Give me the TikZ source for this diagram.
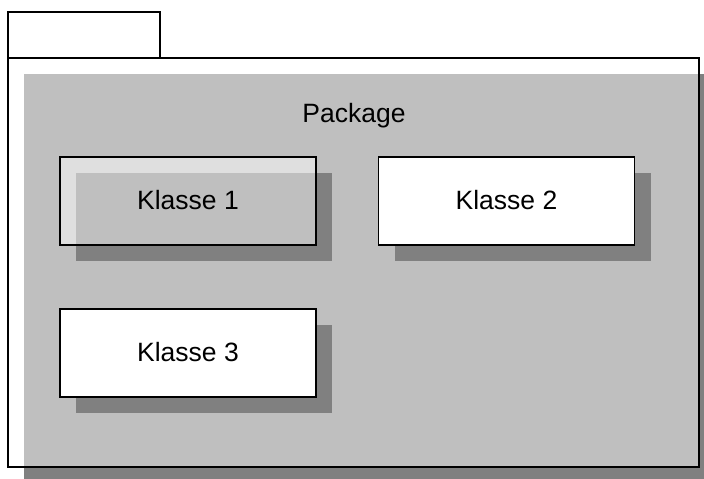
\documentclass[tikz,border=0pt]{standalone}
\usepackage{fontspec}
\setmainfont{Liberation Sans}
\usetikzlibrary{shadows}
\definecolor{shadowgray}{HTML}{808080}
\begin{document}
\begin{tikzpicture}[x=1pt,y=-1pt,
  shadowed/.style={drop shadow={shadow xshift=16pt, shadow yshift=-16pt, fill=shadowgray, opacity=1}},
  boxline/.style={draw=black, line width=1.6pt, inner sep=0pt},
  classbox/.style={boxline, fill=white, minimum width=256pt, minimum height=88pt,
    font=\fontsize{26.5}{31}\selectfont, text depth=3pt, shadowed},
  seethrough/.style={fill opacity=0.5, text opacity=1, draw opacity=1},
  labeltext/.style={font=\fontsize{26.5}{31}\selectfont, inner sep=0pt}]
\useasboundingbox (0,0) rectangle (704,479);
\begin{scope}
\clip (0,0) rectangle (704,479);
\node[boxline, fill=white, seethrough, shadowed, minimum width=691pt, minimum height=409pt] (frame) at (353.5,262.5) {};
\node[boxline, fill=white, minimum width=152pt, minimum height=46pt] (tab) at (84,35) {};
\node[labeltext] (pkg) at (354,116) {Package};
\node[classbox, seethrough] (k1) at (188,201) {Klasse 1};
\node[classbox] (k2) at (506.5,201) {Klasse 2};
\node[classbox] (k3) at (188,353) {Klasse 3};
\end{scope}
\end{tikzpicture}
\end{document}
